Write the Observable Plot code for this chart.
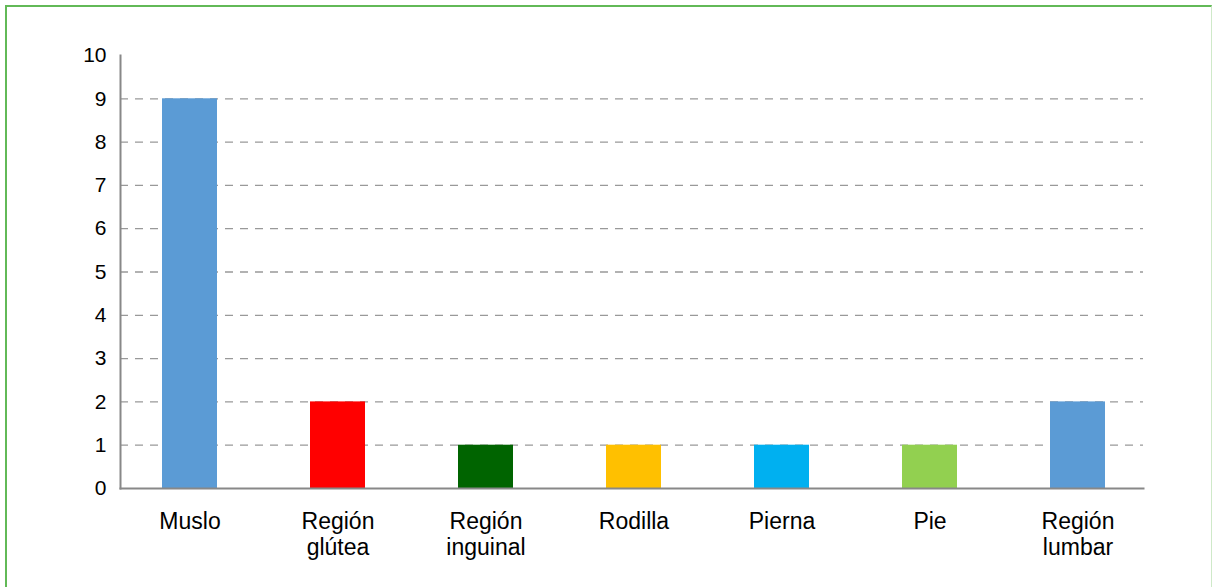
<!DOCTYPE html>
<html>
<head>
<meta charset="utf-8">
<script src="https://cdn.jsdelivr.net/npm/d3@7"></script>
<script src="https://cdn.jsdelivr.net/npm/@observablehq/plot@0.6"></script>
<style>
  html, body { margin: 0; padding: 0; background: #fff; }
  #wrap { position: relative; width: 1213px; height: 587px; overflow: hidden; }
  #border { position: absolute; left: 5px; top: 5px; width: 1204px; height: 600px;
            border-left: 2px solid #62b957; border-top: 2px solid #62b957; border-right: 1px solid #cfe9c9; }
  #chart { position: absolute; left: 0; top: 0; }
</style>
</head>
<body>
<div id="wrap"><div id="border"></div><div id="chart"></div></div>
<script>
const categories = ["Muslo", "Región\nglútea", "Región\ninguinal", "Rodilla", "Pierna", "Pie", "Región\nlumbar"];
const values = [9, 2, 1, 1, 1, 1, 2];
const colors = ["#5b9bd5", "#ff0000", "#006400", "#ffc000", "#00b0f0", "#92d050", "#5b9bd5"];
const yTicks = [0, 1, 2, 3, 4, 5, 6, 7, 8, 9, 10];
const gridTicks = [1, 2, 3, 4, 5, 6, 7, 8, 9];

const data = categories.map((c, i) => ({category: c, value: values[i], color: colors[i]}));

const chart = Plot.plot({
  width: 1213,
  height: 587,
  marginLeft: 120,
  marginRight: 70,
  marginTop: 55,
  marginBottom: 99,
  style: {fontFamily: "'Liberation Sans', Arial, Helvetica, sans-serif", fontSize: "21px", color: "#000", background: "transparent"},
  x: {domain: categories, paddingInner: 0.629, paddingOuter: 0.266, align: 0.53, label: null},
  y: {domain: [0, 10], label: null},
  marks: [
    Plot.gridY(gridTicks, {stroke: "#999", strokeOpacity: 1, strokeWidth: 1.3, strokeDasharray: "8,7"}),
    Plot.barY(data, {x: "category", y: "value", fill: "color"}),
    Plot.frame({anchor: "left", stroke: "#888", strokeWidth: 2}),
    Plot.frame({anchor: "bottom", stroke: "#888", strokeWidth: 2}),
    Plot.axisY(yTicks, {tickSize: 0, tickPadding: 14, fontSize: 21, fill: "#000", label: null}),
    Plot.axisX({tickSize: 0, tickPadding: 23, fontSize: 23, lineHeight: 1.1, fill: "#000", label: null})
  ]
});
document.getElementById("chart").appendChild(chart);
</script>
</body>
</html>
